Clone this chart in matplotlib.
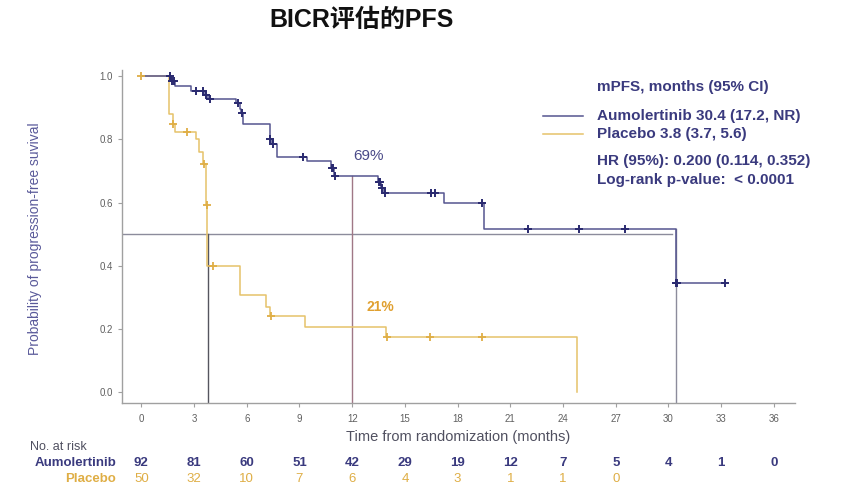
import numpy as np
import matplotlib
matplotlib.use("Agg")
import matplotlib.pyplot as plt
from matplotlib.lines import Line2D

plt.rcParams['font.family'] = ['Liberation Sans', 'Noto Sans CJK SC', 'DejaVu Sans']

# ---------------- data ----------------
aum_times = [0, 1.7, 1.9, 2.8, 3.6, 3.8, 5.4, 5.6, 5.7, 5.8, 7.3, 7.45, 7.7, 9.4,
             10.8, 10.95, 13.45, 13.65, 13.8, 17.2, 19.5, 30.4, 33.2]
aum_surv = [1.0, 0.985, 0.968, 0.955, 0.94, 0.928, 0.915, 0.895, 0.884, 0.848, 0.80,
            0.785, 0.745, 0.733, 0.71, 0.685, 0.665, 0.645, 0.63, 0.598, 0.517, 0.345, 0.345]
aum_censor = [1.65, 1.75, 1.85, 3.1, 3.5, 3.7, 3.9, 5.5, 5.75, 7.35, 7.5, 9.2, 10.85, 10.9,
              11.0, 13.5, 13.6, 13.7, 13.85, 16.5, 16.7, 19.4, 22.0, 24.9, 27.5, 30.4, 30.5, 33.2]

pla_times = [0, 1.6, 1.8, 1.9, 3.1, 3.3, 3.5, 3.7, 3.75, 5.6, 7.1, 7.3, 9.3, 13.9, 24.8]
pla_surv = [1.0, 0.88, 0.85, 0.823, 0.80, 0.76, 0.723, 0.593, 0.398, 0.306, 0.27, 0.241,
            0.206, 0.173, 0.0]
pla_censor = [0.0, 1.8, 2.6, 3.55, 3.72, 4.1, 7.4, 14.0, 16.4, 19.4]

xticks = list(range(0, 37, 3))
yticks = [0.0, 0.2, 0.4, 0.6, 0.8, 1.0]
risk_aum = [92, 81, 60, 51, 42, 29, 19, 12, 7, 5, 4, 1, 0]
risk_pla = [50, 32, 10, 7, 6, 4, 3, 1, 1, 0]

aum_median = 30.4
pla_median = 3.8
landmark = 12
aum_landmark = 0.685

NAVY = "#3a3a7e"
NAVY_LINE = "#55558f"
GOLD_LINE = "#e6c26a"
GOLD = "#dfae45"

# ---------------- figure ----------------
fig = plt.figure(figsize=(8.65, 4.97), dpi=100)
ax = fig.add_axes([122/865, 1-403/497, (795-122)/865, (403-70)/497])
ax.set_xlim(-1.1, 37.2)
ax.set_ylim(-0.035, 1.02)


def surv_at(times, surv, t):
    idx = np.searchsorted(np.array(times), t, side='right') - 1
    return np.array(surv)[idx]


# reference lines
ax.plot([-1.1, 30.2], [0.5, 0.5], color="#8c8c9c", lw=1.0, zorder=1)
ax.plot([pla_median, pla_median], [-0.035, 0.5], color="#55555f", lw=1.0, zorder=1)
ax.plot([landmark, landmark], [-0.035, aum_landmark], color="#a07886", lw=1.0, zorder=1)
ax.plot([aum_median, aum_median], [-0.035, 0.517], color="#8c8c9c", lw=1.0, zorder=1)

# curves
ax.step(pla_times, pla_surv, where='post', color=GOLD_LINE, lw=1.1, zorder=2)
ax.plot(pla_censor, surv_at(pla_times, pla_surv, pla_censor), ls='none', marker='+',
        ms=6, mew=1.3, color=GOLD, zorder=3)
ax.step(aum_times, aum_surv, where='post', color=NAVY_LINE, lw=1.1, zorder=2)
ax.plot(aum_censor, surv_at(aum_times, aum_surv, aum_censor), ls='none', marker='+',
        ms=6, mew=1.4, color="#2a2a70", zorder=3)

# annotations
ax.text(12.9, 0.748, "69%", color="#4a4a88", fontsize=11, ha='center', va='center')
ax.text(13.6, 0.268, "21%", color="#e0a030", fontsize=10, ha='center', va='center',
        fontweight='bold')

# axes style
for s in ['top', 'right']:
    ax.spines[s].set_visible(False)
for s in ['left', 'bottom']:
    ax.spines[s].set_color("#a0a0a0")
    ax.spines[s].set_linewidth(1.0)
ax.set_xticks(xticks)
ax.set_yticks(yticks)
ax.set_yticklabels([f"{v:.1f}" for v in yticks])
ax.tick_params(axis='both', colors="#a0a0a0", labelcolor="#606060", labelsize=7,
               length=3, width=0.8)
ax.tick_params(axis='x', pad=5)

# labels
fig.text(35/865, 1-239/497, "Probability of progression-free suvival", rotation=90,
         ha='center', va='center', fontsize=10, color="#5a5a9a")
fig.text(458/865, 1-437/497, "Time from randomization (months)", ha='center', va='center',
         fontsize=10.5, color="#505060")

# title
fig.text(362/865, 1-20/497, "BICR评估的PFS", ha='center', va='center', fontsize=18,
         fontweight='bold', color="#111111")

# legend block
lx0, lx1, tx = 543/865, 583/865, 597/865
FS = 11
fig.text(tx, 1-87/497, "mPFS, months (95% CI)", fontsize=FS, fontweight='bold',
         color=NAVY, va='center')
fig.add_artist(Line2D([lx0, lx1], [1-116/497]*2, color=NAVY_LINE, lw=1.1))
fig.add_artist(Line2D([lx0, lx1], [1-134/497]*2, color=GOLD_LINE, lw=1.1))
fig.text(tx, 1-116/497, "Aumolertinib 30.4 (17.2, NR)", fontsize=FS, fontweight='bold',
         color=NAVY, va='center')
fig.text(tx, 1-134/497, "Placebo 3.8 (3.7, 5.6)", fontsize=FS, fontweight='bold',
         color=NAVY, va='center')
fig.text(tx, 1-161/497, "HR (95%): 0.200 (0.114, 0.352)", fontsize=FS, fontweight='bold',
         color=NAVY, va='center')
fig.text(tx, 1-180/497, "Log-rank p-value:  < 0.0001", fontsize=FS, fontweight='bold',
         color=NAVY, va='center')

# number at risk
trans = matplotlib.transforms.blended_transform_factory(ax.transData, fig.transFigure)
fig.text(30/865, 1-447/497, "No. at risk", fontsize=9, color="#505060", va='center')
fig.text(116/865, 1-463/497, "Aumolertinib", fontsize=9.5, fontweight='bold', color=NAVY,
         va='center', ha='right')
fig.text(116/865, 1-479/497, "Placebo", fontsize=9.5, fontweight='bold', color=GOLD,
         va='center', ha='right')
for x, n in zip(xticks, risk_aum):
    ax.text(x, 1-463/497, str(n), transform=trans, ha='center', va='center',
            fontsize=9.5, fontweight='bold', color=NAVY, clip_on=False)
for x, n in zip(xticks, risk_pla):
    ax.text(x, 1-479/497, str(n), transform=trans, ha='center', va='center',
            fontsize=9.5, color=GOLD, clip_on=False)

fig.savefig("out.png", dpi=100, facecolor='white')
